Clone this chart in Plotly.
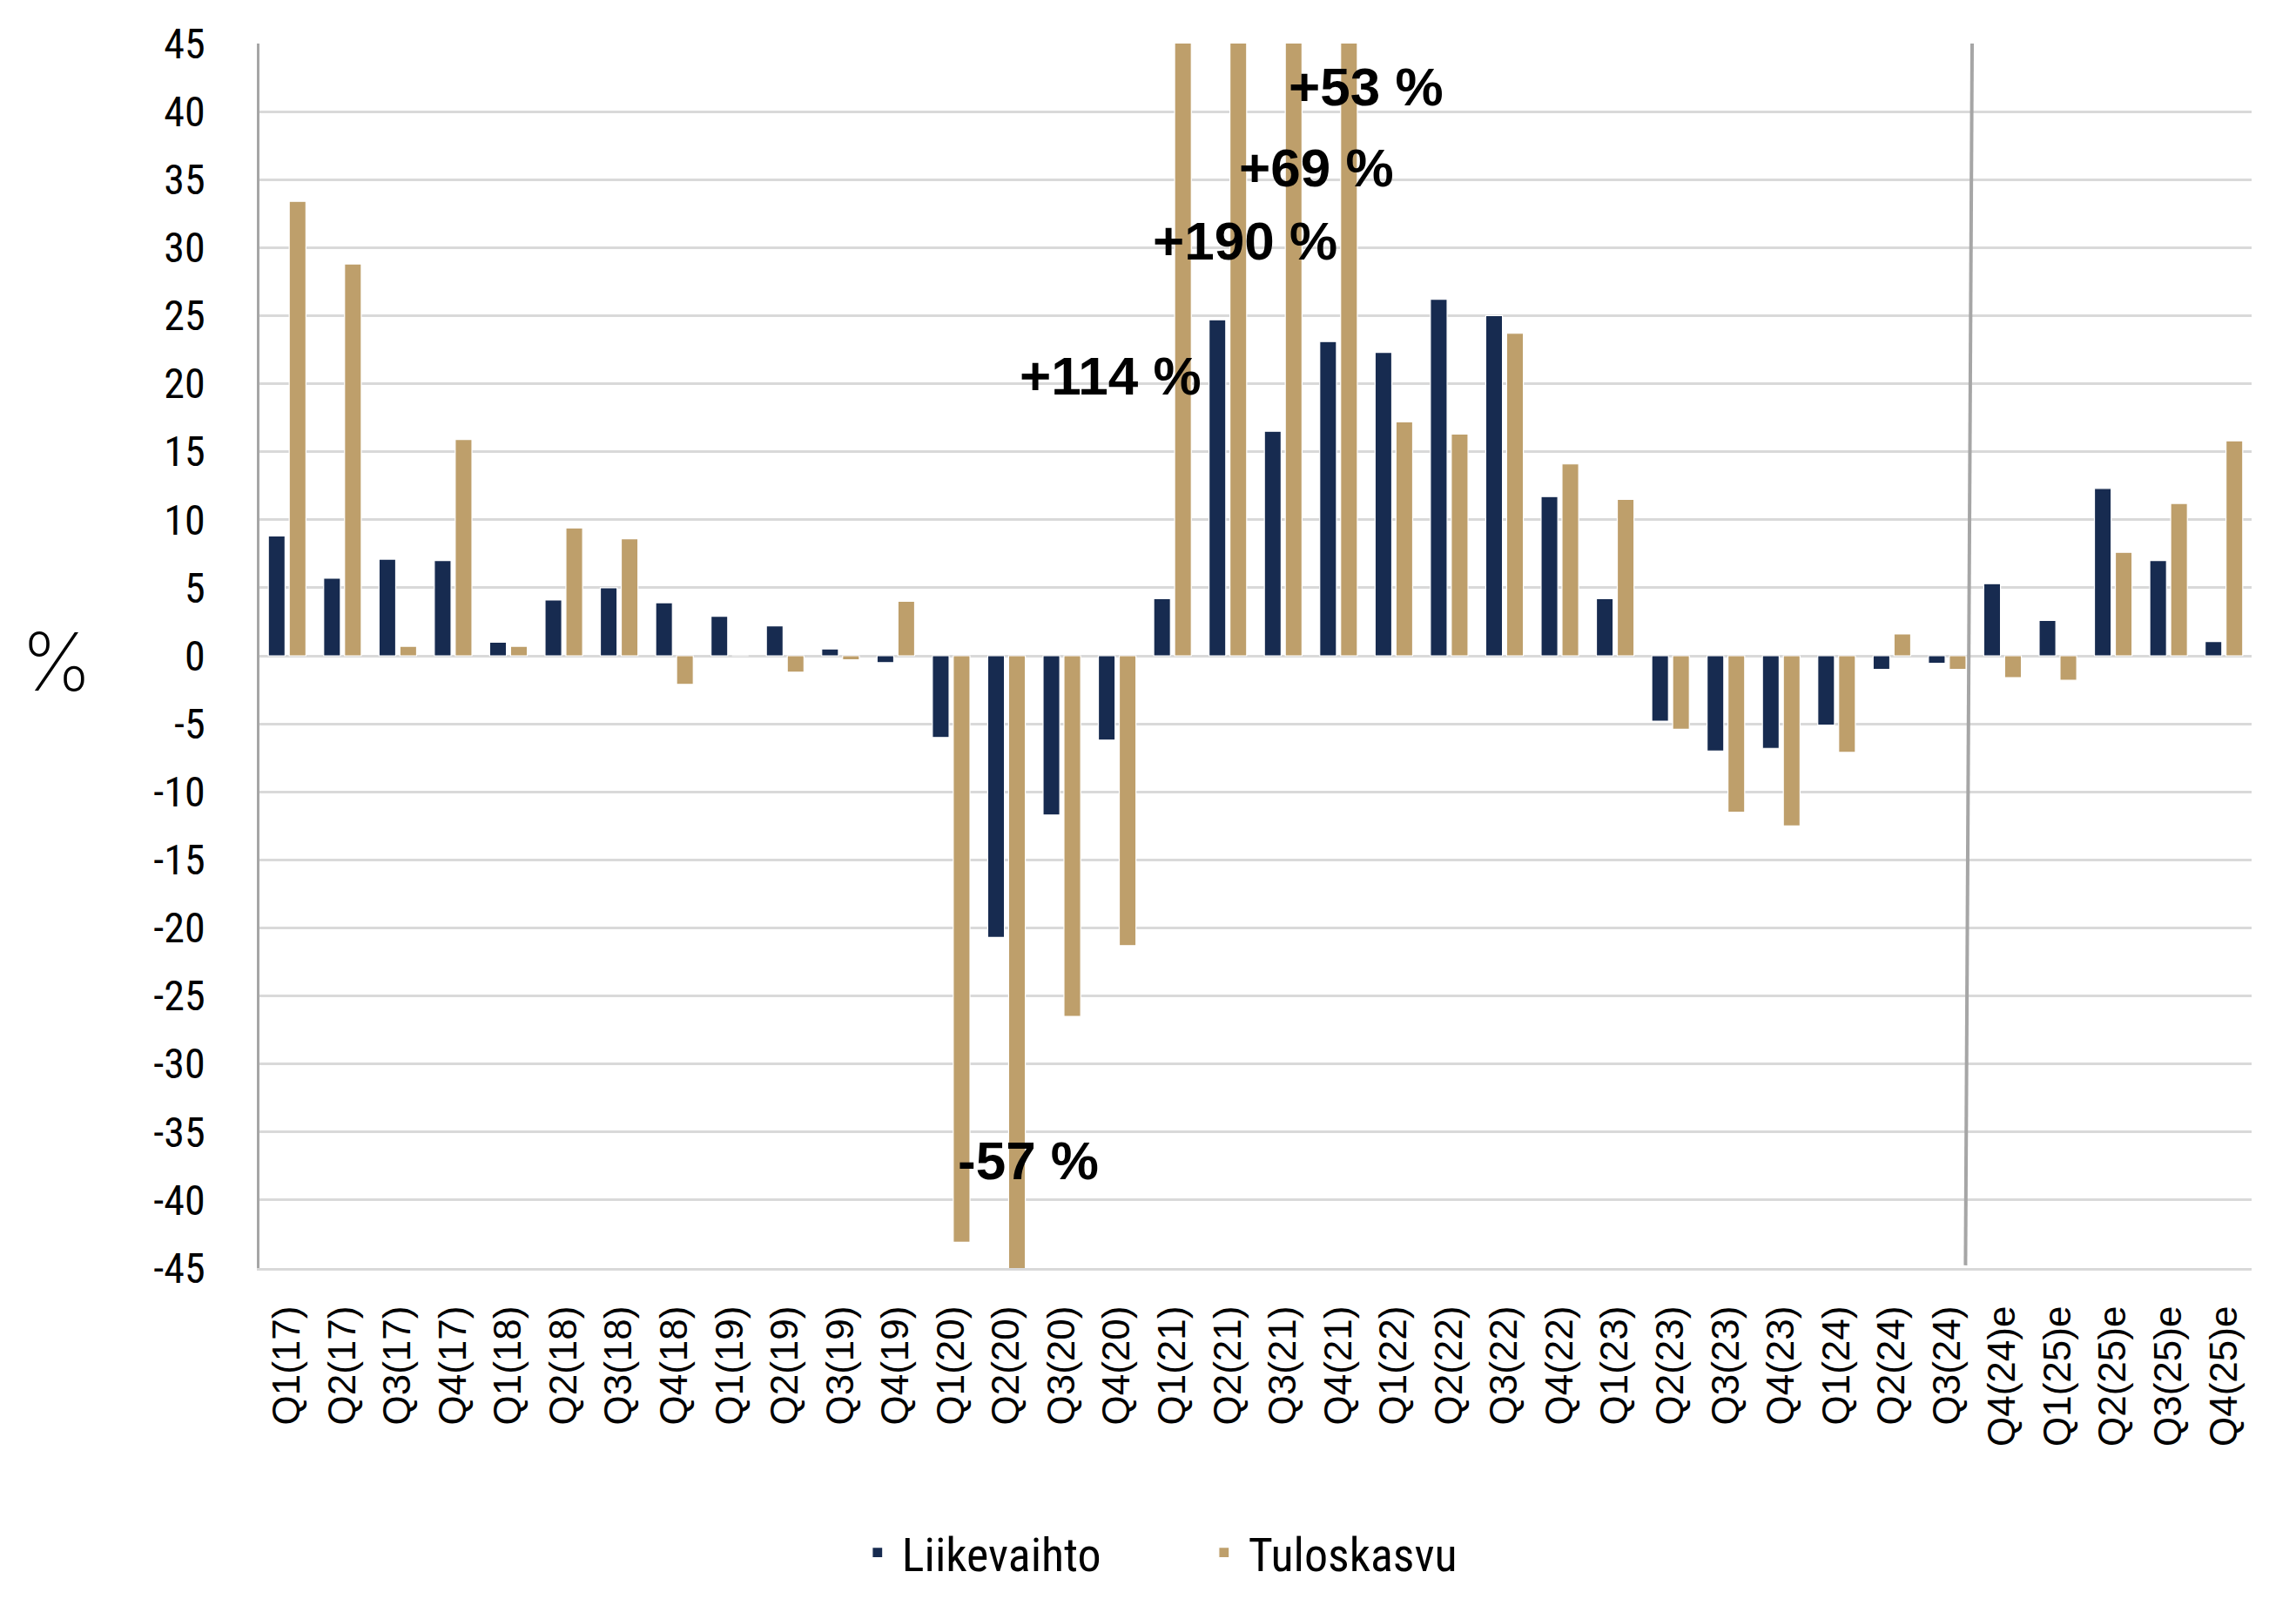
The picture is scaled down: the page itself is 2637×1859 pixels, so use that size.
import plotly.graph_objects as go

categories = [
    "Q1(17)", "Q2(17)", "Q3(17)", "Q4(17)",
    "Q1(18)", "Q2(18)", "Q3(18)", "Q4(18)",
    "Q1(19)", "Q2(19)", "Q3(19)", "Q4(19)",
    "Q1(20)", "Q2(20)", "Q3(20)", "Q4(20)",
    "Q1(21)", "Q2(21)", "Q3(21)", "Q4(21)",
    "Q1(22)", "Q2(22)", "Q3(22)", "Q4(22)",
    "Q1(23)", "Q2(23)", "Q3(23)", "Q4(23)",
    "Q1(24)", "Q2(24)", "Q3(24)",
    "Q4(24)e", "Q1(25)e", "Q2(25)e", "Q3(25)e", "Q4(25)e",
]

liikevaihto = [
    8.8, 5.7, 7.1, 7.0,
    1.0, 4.1, 5.0, 3.9,
    2.9, 2.2, 0.5, -0.5,
    -6.0, -20.7, -11.7, -6.2,
    4.2, 24.7, 16.5, 23.1,
    22.3, 26.2, 25.0, 11.7,
    4.2, -4.8, -7.0, -6.8,
    -5.1, -1.0, -0.55,
    5.3, 2.6, 12.3, 7.0, 1.05,
]

tuloskasvu = [
    33.4, 28.8, 0.7, 15.9,
    0.7, 9.4, 8.6, -2.1,
    0.0, -1.2, -0.3, 4.0,
    -43.1, -57.0, -26.5, -21.3,
    114.0, 190.0, 69.0, 53.0,
    17.2, 16.3, 23.7, 14.1,
    11.5, -5.4, -11.5, -12.5,
    -7.1, 1.6, -1.0,
    -1.6, -1.8, 7.6, 11.2, 15.8,
]

y_ticks = list(range(-45, 50, 5))

# Off-scale labels: text, x position (category index), y value
callout_texts = ["+114 %", "+190 %", "+69 %", "+53 %", "-57 %"]
callout_x = [13.2, 15.61, 17.17, 18.07, 12.09]
callout_y = [20.6, 30.5, 35.9, 41.8, -37.1]

NAVY = "#172B50"
GOLD = "#BE9F6B"
TICK_FONT = "Liberation Sans Narrow, Arial Narrow, Roboto Condensed, DejaVu Sans Condensed, Liberation Sans, sans-serif"

# page body has an 8px margin -> figure slightly smaller, margins shifted
W, H = 2629, 1851
L, R, T, B = 290, 51, 42, 403
PW, PH = W - L - R, H - T - B

fig = go.Figure()
fig.add_trace(go.Bar(
    x=categories, y=liikevaihto, name="Liikevaihto",
    marker=dict(color=NAVY, line=dict(color="white", width=1.2)),
))
fig.add_trace(go.Bar(
    x=categories, y=tuloskasvu, name="Tuloskasvu",
    marker=dict(color=GOLD, line=dict(color="white", width=1.2)),
))

for t, xx, yy in zip(callout_texts, callout_x, callout_y):
    fig.add_annotation(
        x=xx, y=yy, xref="x", yref="y", text=t, showarrow=False,
        xanchor="left", yanchor="middle",
        font=dict(family="Liberation Sans, Arial, sans-serif", size=62, color="black", weight="bold"),
    )

# "%" axis label
fig.add_annotation(
    x=(57 - L) / PW, y=(PH + T - 751) / PH, xref="paper", yref="paper", text="%", showarrow=False,
    font=dict(family="Inter, Lato, sans-serif", size=92, color="black", weight=200),
    xanchor="center", yanchor="middle",
)

# Separator between actuals and estimates
fig.add_shape(
    type="line", xref="x", yref="y",
    x0=30.45, y0=45.2, x1=30.33, y1=-44.8,
    line=dict(color="#A6A6A6", width=4),
)

fig.update_layout(
    width=W, height=H,
    margin=dict(l=L, r=R, t=T, b=B),
    paper_bgcolor="white", plot_bgcolor="white",
    barmode="group", bargap=0.245, bargroupgap=0.2,
    showlegend=True,
    legend=dict(
        orientation="h", x=0.298, xanchor="left", y=-0.2326, yanchor="middle",
        font=dict(family=TICK_FONT, size=54, color="black"),
        itemwidth=46, entrywidth=337, traceorder="normal",
    ),
    xaxis=dict(
        type="category", tickangle=-90, showgrid=False,
        tickfont=dict(family="Liberation Sans, Arial, sans-serif", size=44, color="black"),
        showline=True, linecolor="#D9D9D9", linewidth=3,
        ticks="", ticklabelstandoff=23,
    ),
    yaxis=dict(
        range=[-45, 45], tickvals=y_ticks, ticktext=[str(v) for v in y_ticks],
        showgrid=True, gridcolor="#D9D9D9", gridwidth=2.5,
        zeroline=False, showline=True, linecolor="#A6A6A6", linewidth=2.5,
        tickfont=dict(family=TICK_FONT, size=48, color="black"),
        ticks="", ticklabelstandoff=50,
    ),
)

fig.write_html("out.html")
